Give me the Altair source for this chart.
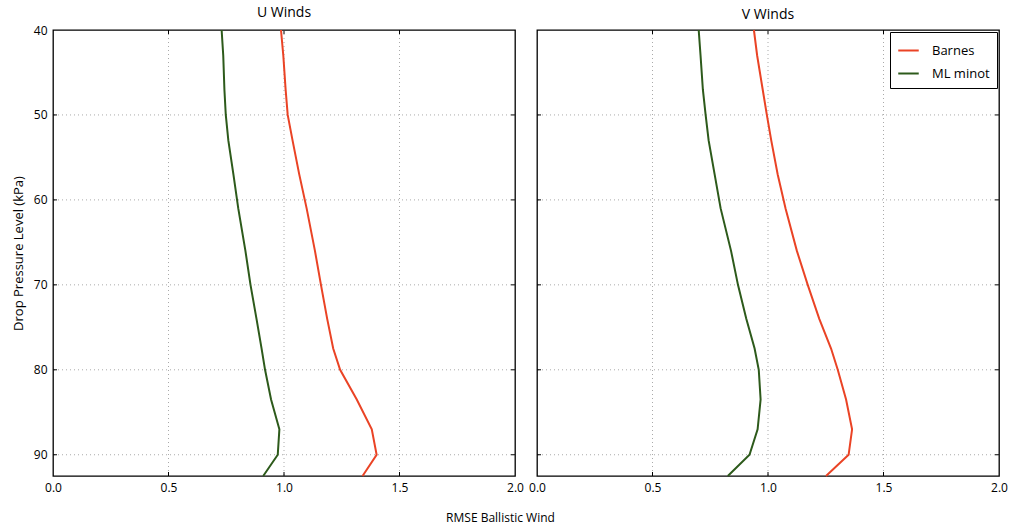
import altair as alt
import pandas as pd

pressure = [40, 43, 47, 50, 53, 57, 61, 66, 70, 74, 77.5, 80, 83.5, 87, 90, 92.5]
u_barnes = [0.987, 0.997, 1.007, 1.016, 1.037, 1.066, 1.098, 1.134, 1.16, 1.187, 1.213, 1.243, 1.315, 1.38, 1.401, 1.34]
u_ml = [0.730, 0.737, 0.742, 0.748, 0.759, 0.781, 0.802, 0.833, 0.855, 0.881, 0.903, 0.918, 0.944, 0.980, 0.973, 0.91]
v_barnes = [0.939, 0.953, 0.977, 0.995, 1.014, 1.042, 1.076, 1.125, 1.172, 1.222, 1.273, 1.302, 1.338, 1.364, 1.349, 1.251]
v_ml = [0.700, 0.708, 0.718, 0.730, 0.743, 0.769, 0.795, 0.840, 0.870, 0.906, 0.942, 0.960, 0.968, 0.955, 0.920, 0.826]

models = ["Barnes", "ML minot"]
colors = ["#ea4325", "#2d5a1b"]
x_ticks = [0, 0.5, 1.0, 1.5, 2.0]
y_ticks = [40, 50, 60, 70, 80, 90]
x_grid = [0.5, 1.0, 1.5]
y_grid = [50, 60, 70, 80, 90]
FONT = "Open Sans"
W, H = 462, 446

x_scale = alt.Scale(domain=[0, 2], nice=False)
y_scale = alt.Scale(domain=[40, 92.5], nice=False, zero=False, reverse=True)


def panel(title, barnes, ml, first):
    df = pd.DataFrame({
        "pressure": pressure * 2,
        "rmse": barnes + ml,
        "model": ["Barnes"] * len(pressure) + ["ML minot"] * len(pressure),
    })
    if first:
        legend = None
    else:
        legend = alt.Legend(
            title=None, orient="top-right", offset=2, strokeColor="black",
            fillColor="white", padding=7, labelFont=FONT, labelFontSize=13,
            labelColor="black", symbolType="stroke", symbolSize=420,
            symbolStrokeWidth=2, rowPadding=4, labelOffset=12,
        )
    x_axis = alt.Axis(
        values=x_ticks, format=".1f", labelFlush=False, ticks=False, domain=False,
        grid=False, labelFont=FONT, labelFontSize=12, labelColor="black",
        labelPadding=6,
        title="RMSE Ballistic Wind" if first else None,
        titleFont=FONT, titleFontSize=12, titleFontWeight="normal",
        titleColor="black", titleX=447, titleY=36, titleBaseline="top",
    )
    if first:
        y_axis = alt.Axis(
            values=y_ticks, ticks=False, domain=False, grid=False,
            labelFont=FONT, labelFontSize=12, labelColor="black",
            labelPadding=6, title="Drop Pressure Level (kPa)", titleFont=FONT,
            titleFontSize=13, titleFontWeight="normal", titleColor="black",
            titlePadding=8,
        )
    else:
        y_axis = alt.Axis(values=y_ticks, ticks=False, domain=False, grid=False,
                          labels=False, title=None)

    vgrid = alt.Chart(pd.DataFrame({"g": x_grid})).mark_rule(
        color="#aaa", strokeDash=[1, 3], strokeWidth=1
    ).encode(x=alt.X("g:Q", scale=x_scale, axis=x_axis))
    hgrid = alt.Chart(pd.DataFrame({"g": y_grid})).mark_rule(
        color="#aaa", strokeDash=[1, 3], strokeWidth=1
    ).encode(y=alt.Y("g:Q", scale=y_scale, axis=y_axis))
    xtick_b = alt.Chart(pd.DataFrame({"g": x_grid})).mark_rule(color="black").encode(
        x=alt.X("g:Q", scale=x_scale), y=alt.value(H - 4), y2=alt.value(H))
    xtick_t = alt.Chart(pd.DataFrame({"g": x_grid})).mark_rule(color="black").encode(
        x=alt.X("g:Q", scale=x_scale), y=alt.value(0), y2=alt.value(4))
    ytick_l = alt.Chart(pd.DataFrame({"g": y_grid})).mark_rule(color="black").encode(
        y=alt.Y("g:Q", scale=y_scale), x=alt.value(0), x2=alt.value(4))
    ytick_r = alt.Chart(pd.DataFrame({"g": y_grid})).mark_rule(color="black").encode(
        y=alt.Y("g:Q", scale=y_scale), x=alt.value(W - 4), x2=alt.value(W))

    lines = alt.Chart(df).mark_line(strokeWidth=2).encode(
        x=alt.X("rmse:Q", scale=x_scale),
        y=alt.Y("pressure:Q", scale=y_scale),
        color=alt.Color("model:N", scale=alt.Scale(domain=models, range=colors),
                        legend=legend),
        order=alt.Order("pressure:Q"),
    )
    return alt.layer(
        vgrid, hgrid, xtick_b, xtick_t, ytick_l, ytick_r, lines,
        title=alt.Title(title, font=FONT, fontSize=14, fontWeight="normal",
                        color="black", offset=4),
    ).properties(width=W, height=H)


left = panel("U Winds", u_barnes, u_ml, True)
right = panel("V Winds", v_barnes, v_ml, False)

chart = (
    alt.hconcat(left, right, spacing=22, bounds="flush")
    .resolve_legend(color="independent")
    .properties(padding={"left": 11, "top": 5, "right": 5, "bottom": 5})
    .configure(background="white")
    .configure_view(stroke="black", strokeWidth=1.3)
)

chart.save("out.html", embed_options={"renderer": "svg", "actions": False})
